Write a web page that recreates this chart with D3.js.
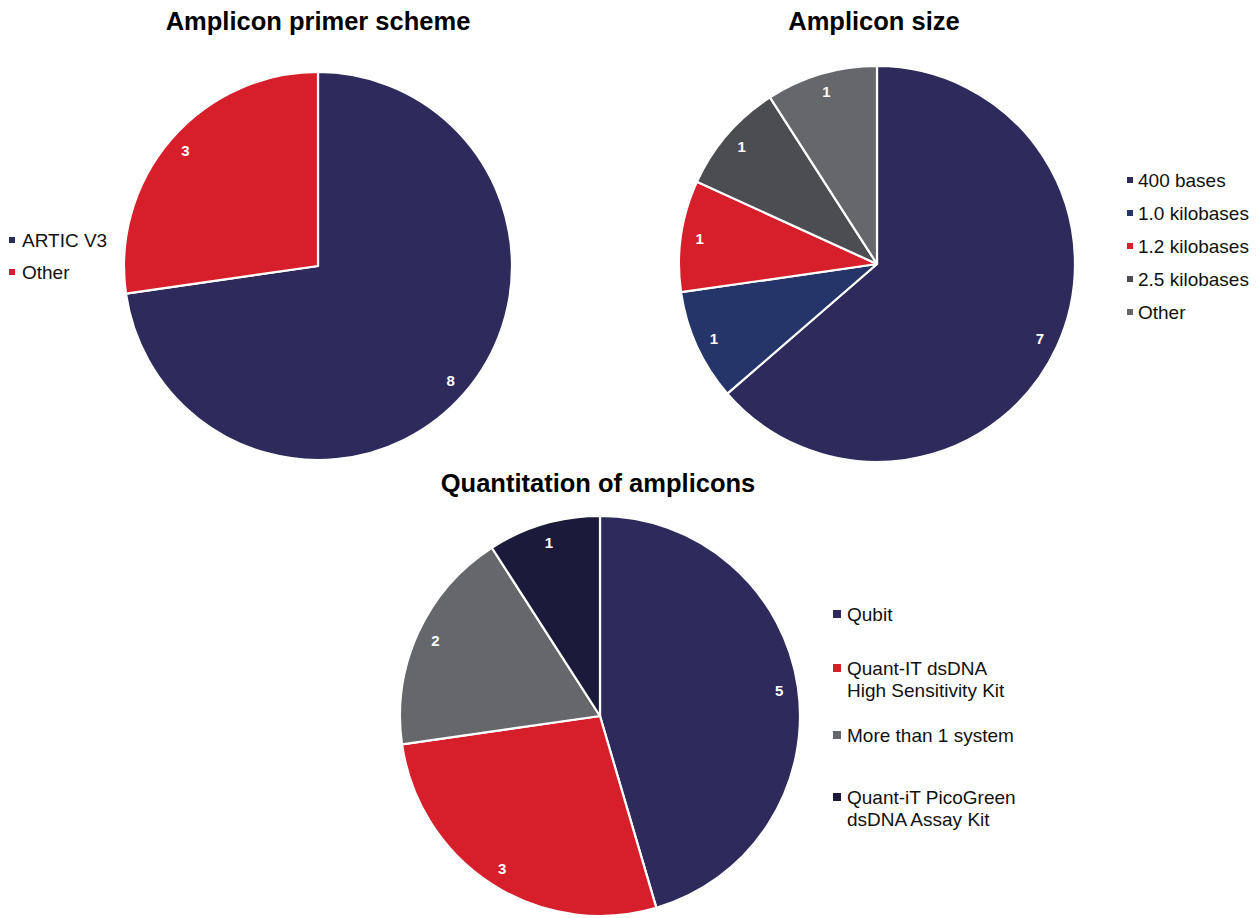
<!DOCTYPE html>
<html>
<head>
<meta charset="utf-8">
<script src="https://cdn.jsdelivr.net/npm/d3@7"></script>
<style>
  html, body { margin: 0; padding: 0; background: #ffffff; }
  svg { display: block; font-family: "Liberation Sans", Arial, sans-serif; }
</style>
</head>
<body>
<svg id="chart" width="1260" height="918"></svg>
<script>
// Survey responses, one array per pie
const primerCategories = ["ARTIC V3", "Other"];
const primerValues = [8, 3];
const primerColors = ["#2e2a5c", "#d71f2b"];

const sizeCategories = ["400 bases", "1.0 kilobases", "1.2 kilobases", "2.5 kilobases", "Other"];
const sizeValues = [7, 1, 1, 1, 1];
const sizeColors = ["#2e2a5c", "#25356a", "#d71f2b", "#4b4d51", "#66676b"];

const quantCategories = [["Qubit"], ["Quant-IT dsDNA", "High Sensitivity Kit"], ["More than 1 system"], ["Quant-iT PicoGreen", "dsDNA Assay Kit"]];
const quantValues = [5, 3, 2, 1];
const quantColors = ["#2e2a5c", "#d71f2b", "#66676b", "#1c1a3a"];

const svg = d3.select("#chart");

function drawPie(cfg) {
  const g = svg.append("g").attr("transform", `translate(${cfg.cx},${cfg.cy})`);
  const pie = d3.pie().sort(null).value(d => d.value);
  const arcs = pie(cfg.values.map((v, i) => ({ value: v, color: cfg.colors[i] })));
  const arc = d3.arc().innerRadius(0).outerRadius(cfg.r);
  const labelArc = d3.arc().innerRadius(cfg.r * 0.905).outerRadius(cfg.r * 0.905);

  g.selectAll("path.slice").data(arcs).join("path")
    .attr("class", "slice")
    .attr("d", arc)
    .attr("fill", d => d.data.color)
    .attr("stroke", "#ffffff")
    .attr("stroke-width", 2.2)
    .attr("stroke-linejoin", "round");

  g.selectAll("text.val").data(arcs).join("text")
    .attr("class", "val")
    .attr("transform", d => `translate(${labelArc.centroid(d)})`)
    .attr("text-anchor", "middle")
    .attr("dy", "0.36em")
    .attr("fill", "#ffffff")
    .attr("font-weight", "bold")
    .attr("font-size", 15)
    .text(d => d.data.value);

  svg.append("text")
    .attr("x", cfg.titleX).attr("y", cfg.titleY)
    .attr("text-anchor", "middle")
    .attr("font-weight", "bold")
    .attr("font-size", 25.5)
    .attr("fill", "#000000")
    .text(cfg.title);

  const lg = svg.append("g");
  cfg.legend.forEach((lines, i) => {
    const y = cfg.legendY[i];
    lg.append("rect")
      .attr("x", cfg.legendX).attr("y", y - cfg.sq / 2)
      .attr("width", cfg.sq).attr("height", cfg.sq)
      .attr("fill", cfg.colors[i]);
    const t = lg.append("text")
      .attr("x", cfg.legendX + cfg.sq + cfg.gap)
      .attr("y", y)
      .attr("font-size", 19)
      .attr("fill", "#111111");
    lines.forEach((line, j) => {
      t.append("tspan")
        .attr("x", cfg.legendX + cfg.sq + cfg.gap)
        .attr("dy", j === 0 ? "0.35em" : "1.17em")
        .text(line);
    });
  });
}

drawPie({
  title: "Amplicon primer scheme", titleX: 318, titleY: 30,
  cx: 318, cy: 266, r: 194,
  values: primerValues, colors: primerColors,
  legend: primerCategories.map(c => [c]),
  legendX: 9, legendY: [240, 272], sq: 6, gap: 7
});

drawPie({
  title: "Amplicon size", titleX: 874, titleY: 30,
  cx: 877, cy: 264, r: 198,
  values: sizeValues, colors: sizeColors,
  legend: sizeCategories.map(c => [c]),
  legendX: 1127, legendY: [180, 213, 246, 279, 312], sq: 6, gap: 5
});

drawPie({
  title: "Quantitation of amplicons", titleX: 598, titleY: 492,
  cx: 600, cy: 716, r: 200,
  values: quantValues, colors: quantColors,
  legend: quantCategories,
  legendX: 833, legendY: [614, 668, 735, 797], sq: 8, gap: 6
});
</script>
</body>
</html>
